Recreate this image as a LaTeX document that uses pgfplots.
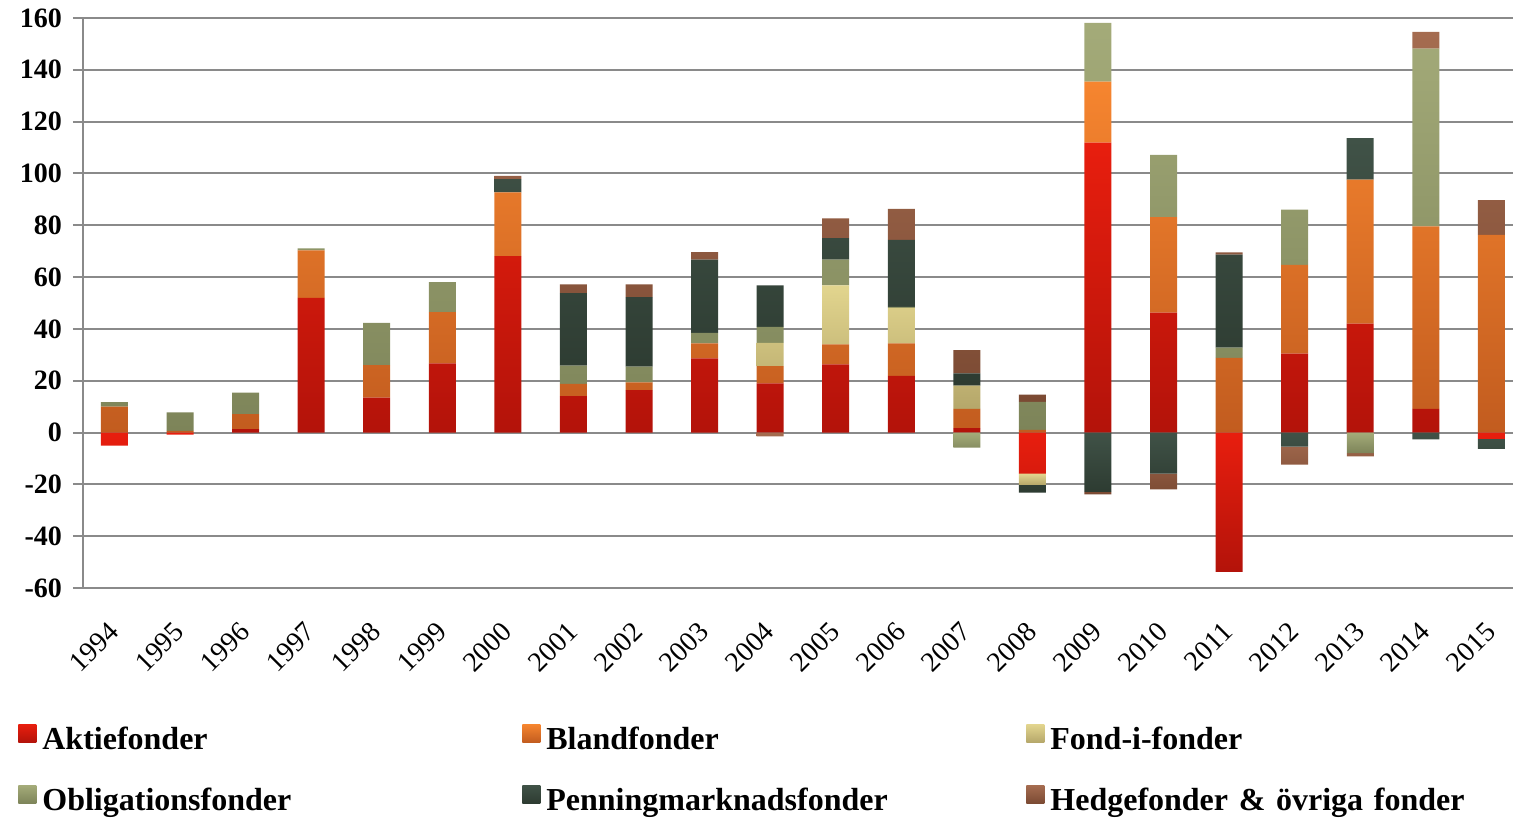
\documentclass[border=0pt]{standalone}
\usepackage{pgfplots}
\pgfplotsset{compat=1.18}
\usepackage{pgfplotstable}
\usepackage{fontspec}
\setmainfont{Liberation Serif}

\definecolor{aktT}{HTML}{E81E0E}\definecolor{aktB}{HTML}{B3130A}
\definecolor{blaT}{HTML}{F6852F}\definecolor{blaB}{HTML}{C25C1F}
\definecolor{fifT}{HTML}{E2D58E}\definecolor{fifB}{HTML}{B5A76A}
\definecolor{oblT}{HTML}{A4AB79}\definecolor{oblB}{HTML}{7D8459}
\definecolor{penT}{HTML}{405247}\definecolor{penB}{HTML}{2D3B31}
\definecolor{hedT}{HTML}{A56C50}\definecolor{hedB}{HTML}{7B4A33}
\definecolor{gridc}{HTML}{8A8A8A}

% positive parts
\pgfplotstableread{
x a b f o p h
0 0 10 0 1.7 0 0
1 0 0.6 0 7.2 0 0
2 1.3 5.8 0 8.3 0 0
3 52 18.3 0 0.8 0 0
4 13.5 12.5 0 16.3 0 0
5 26.7 19.8 0 11.6 0 0
6 68.1 24.6 0 0 5.1 1.3
7 14.1 4.7 0 7 28 3.4
8 16.4 3 0 6 26.9 4.9
9 28.6 5.8 0 4.1 28.2 2.9
10 19 6.6 9 6.2 16 0
11 26.3 7.7 22.8 9.9 8.3 7.7
12 21.9 12.5 13.7 0.4 25.9 11.9
13 1.7 7.4 9 0 4.7 9
14 0 1 0 10.8 0 2.8
15 111.9 23.5 0 22.7 0 0
16 46.3 36.8 0 24.1 0 0
17 0 28.8 0 4 35.9 0.8
18 30.5 34.2 0 21.3 0 0
19 42 55.6 0 0 16 0
20 9.1 70.5 0 68.6 0 6.4
21 0 76.3 0 0 0 13.4
}\postab

% negative parts
\pgfplotstableread{
x a b f o p h
0 -5 0 0 0 0 0
1 -0.8 0 0 0 0 0
2 0 0 0 0 0 0
3 0 0 0 0 0 0
4 0 0 0 0 0 0
5 0 0 0 0 0 0
6 0 0 0 0 0 0
7 0 0 0 0 0 0
8 0 0 0 0 0 0
9 0 0 0 0 0 0
10 0 0 0 0 0 -1.5
11 0 0 0 0 0 0
12 0 0 0 0 0 0
13 0 0 0 -5.8 0 0
14 -15.9 0 -4.2 0 -3.1 0
15 0 0 0 0 -22.9 -1
16 0 0 0 0 -15.9 -6
17 -53.8 0 0 0 0 0
18 0 0 0 0 -5.4 -7
19 0 0 0 -7.9 0 -1.3
20 0 0 0 0 -2.6 0
21 -2.4 0 0 0 -3.9 0
}\negtab

\pgfplotsset{
  aktS/.style={top color=aktT, bottom color=aktB, draw=none},
  blaS/.style={top color=blaT, bottom color=blaB, draw=none},
  fifS/.style={top color=fifT, bottom color=fifB, draw=none},
  oblS/.style={top color=oblT, bottom color=oblB, draw=none},
  penS/.style={top color=penT, bottom color=penB, draw=none},
  hedS/.style={top color=hedT, bottom color=hedB, draw=none},
  common/.style={
    scale only axis, width=715pt, height=285pt,
    xmin=-0.48, xmax=21.33, ymin=-60, ymax=160,
    ybar stacked, bar width=13.5pt,
  },
}

\begin{document}
\begin{tikzpicture}
\path[use as bounding box] (-41.5pt,-115.5pt) rectangle (715pt,294pt);
\begin{axis}[common,
  axis lines*=left,
  axis line style={draw=gridc, line width=1pt, -},
  ymajorgrids, grid style={draw=gridc, line width=1pt},
  ytick={-60,-40,...,160},
  xtick={0,...,21},
  xticklabels={1994,1995,1996,1997,1998,1999,2000,2001,2002,2003,2004,2005,2006,2007,2008,2009,2010,2011,2012,2013,2014,2015},
  x tick style={draw=none},
  y tick style={draw=gridc, line width=1pt},
  tick align=outside, major tick length=5pt,
  /pgf/number format/assume math mode=true,
  yticklabel style={font=\bfseries\fontsize{14}{16}\selectfont, xshift=-2pt},
  xticklabel style={font=\fontsize{14}{16}\selectfont, rotate=45, anchor=east, yshift=-10pt, xshift=-7pt},
  legend columns=3,
  legend style={draw=none, fill=none, at={(0,0)}, anchor=north west,
    xshift=-32.5pt, yshift=-68pt, inner sep=0pt,
    font=\bfseries\fontsize{16}{18}\selectfont,
    nodes={text width=240pt, align=left, inner xsep=0pt, inner ysep=0pt, text height=11pt, text depth=4pt},
    row sep=14pt,
    /tikz/every odd column/.style={column sep=3pt},
    /tikz/every even column/.style={column sep=0pt}},
  legend image code/.code={\path[#1] (0pt,0pt) rectangle (9pt,9pt);},
]
\addplot[aktS] table[x=x, y=a] {\postab};
\addplot[blaS] table[x=x, y=b] {\postab};
\addplot[fifS] table[x=x, y=f] {\postab};
\addplot[oblS] table[x=x, y=o] {\postab};
\addplot[penS] table[x=x, y=p] {\postab};
\addplot[hedS] table[x=x, y=h] {\postab};
\legend{Aktiefonder, Blandfonder, Fond-i-fonder, Obligationsfonder, Penningmarknadsfonder, Hedgefonder \& övriga fonder}
\end{axis}
\begin{axis}[common, hide axis]
\addplot[aktS] table[x=x, y=a] {\negtab};
\addplot[blaS] table[x=x, y=b] {\negtab};
\addplot[fifS] table[x=x, y=f] {\negtab};
\addplot[oblS] table[x=x, y=o] {\negtab};
\addplot[penS] table[x=x, y=p] {\negtab};
\addplot[hedS] table[x=x, y=h] {\negtab};
\end{axis}
\end{tikzpicture}
\end{document}
